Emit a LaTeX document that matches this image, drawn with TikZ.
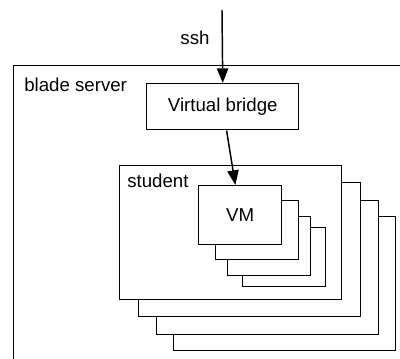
\documentclass[tikz,border=0pt]{standalone}
\usepackage{fontspec}
\setmainfont{Liberation Sans}
\usetikzlibrary{arrows.meta}
\tikzset{
  box/.style={rectangle,draw,fill=white,line width=1.1pt,inner sep=0pt,anchor=north west},
  lbl/.style={inner sep=0pt},
  arr/.style={-{Triangle[length=11pt,width=8.5pt]},line width=1.1pt}
}
\begin{document}
\begin{tikzpicture}[x=0.75pt,y=-0.75pt,font=\fontsize{14}{16}\selectfont]
\useasboundingbox (0,0) rectangle (400,359);
\clip (0,0) rectangle (400,359);
\node (blade) [box,minimum width=320pt,minimum height=240pt] at (13,65) {};
\node (bladelbl) [lbl,anchor=west] at (24,84.5) {blade server};

% students, back to front
\foreach \x/\y in {173/216,156/200,138/182}
  \node (student\x) [box,minimum width=166.5pt,minimum height=100.5pt] at (\x,\y) {};
\node (student) [box,minimum width=166.5pt,minimum height=100.5pt] at (119,165) {};
\node (studentlbl) [lbl,anchor=west] at (127,181) {student};

% virtual machines
\foreach \x/\y in {242/227,227/216,215/200}
  \node (vm\x) [box,minimum width=62.25pt,minimum height=44.25pt] at (\x,\y) {};
\node (vm) [box,minimum width=62.25pt,minimum height=44.25pt] at (198,185) {VM};

\node (vb) [box,minimum width=114pt,minimum height=34.5pt] at (146,83) {Virtual bridge};

\coordinate (in) at (222,10);
\node (ssh) [lbl] at (195,38) {ssh};
\draw [arr] (in) -- (vb.north);
\draw [arr] (vb) -- (vm);
\end{tikzpicture}
\end{document}
